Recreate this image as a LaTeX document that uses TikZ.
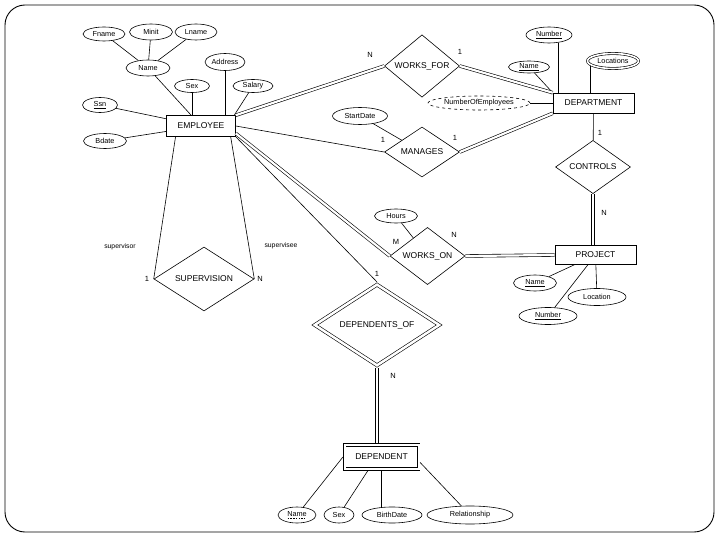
\documentclass[tikz,border=0pt]{standalone}
\usepackage{fontspec}
\setmainfont{Liberation Sans}
\usetikzlibrary{shapes.geometric,calc}
\newcommand\solidul[1]{\underline{#1}}
\newcommand\dashul[1]{\setbox0\hbox{#1}\rlap{\raisebox{-1.6pt}{\hbox to \wd0{\xleaders\hbox{\vrule width 1.5pt height 0.4pt\hskip 1pt}\hfill}}}\box0}
\begin{document}
\begin{tikzpicture}[x=1pt,y=-1pt,line width=0.6pt,
  ent/.style={draw,rectangle,inner sep=0pt,font=\fontsize{8.5}{9}\selectfont},
  rel/.style={draw,diamond,inner sep=0pt,font=\fontsize{8.5}{9}\selectfont},
  attr/.style={draw,ellipse,inner sep=0pt,minimum height=15pt,font=\fontsize{7.3}{8}\selectfont},
  card/.style={inner sep=0pt,font=\fontsize{7.5}{8}\selectfont},
  role/.style={inner sep=0pt,font=\fontsize{6.8}{7}\selectfont},
  total/.style={double,double distance=2.2pt},
  frame/.style={line width=0.9pt,rounded corners=20pt}]
\path[use as bounding box] (0,0) rectangle (720,540);
\draw[frame] (5,5) rectangle (714,532);

% entities
\node[ent,minimum width=69,minimum height=21] (emp) at (201,126) {EMPLOYEE};
\node[ent,minimum width=81,minimum height=20] (dept) at (593.5,103) {DEPARTMENT};
\node[ent,minimum width=81,minimum height=19] (proj) at (595.5,255) {PROJECT};
\node[ent,double,double distance=2pt,outer sep=1.6pt,minimum width=74,minimum height=24] (dep) at (381.5,457) {DEPENDENT};

% relationships
\node[rel,minimum width=75,minimum height=48] (wf) at (422,66) {WORKS\_FOR};
\node[rel,minimum width=75,minimum height=50] (man) at (422,152) {MANAGES};
\node[rel,minimum width=75,minimum height=48] (ctrl) at (593,167) {CONTROLS};
\node[rel,minimum width=75,minimum height=50] (won) at (427.5,256) {WORKS\_ON};
\node[rel,minimum width=100,minimum height=62] (sup) at (204,279) {SUPERVISION};
\node[rel,double,double distance=2.5pt,outer sep=1.9pt,minimum width=126,minimum height=77] (depof) at (377,325) {DEPENDENTS\_OF};

% employee attributes
\node[attr,minimum width=42,minimum height=14] (fname) at (104,34) {Fname};
\node[attr,minimum width=43,minimum height=16] (minit) at (151,32) {Minit};
\node[attr,minimum width=42,minimum height=16] (lname) at (196,32) {Lname};
\node[attr,minimum width=44,minimum height=16] (ename) at (148,68) {Name};
\node[attr,minimum width=40,minimum height=17] (addr) at (225,62) {Address};
\node[attr,minimum width=35,minimum height=13] (esex) at (192,86) {Sex};
\node[attr,minimum width=40,minimum height=13] (salary) at (253,86) {Salary};
\node[attr,minimum width=35,minimum height=15] (ssn) at (100,105) {\solidul{Ssn}};
\node[attr,minimum width=43,minimum height=15] (bdate) at (105,141) {Bdate};

% department attributes
\node[attr,minimum width=46,minimum height=16] (dnum) at (549,35) {\solidul{Number}};
\node[attr,minimum width=41,minimum height=12] (dname) at (529,67) {\solidul{Name}};
\node[attr,double,double distance=1.6pt,outer sep=1.4pt,minimum width=51,minimum height=15] (locs) at (613,61) {Locations};
\node[attr,dashed,minimum width=102,minimum height=14] (numemp) at (479,103) {NumberOfEmployees};

% relationship attributes
\node[attr,minimum width=55,minimum height=17] (sdate) at (360,116) {StartDate};
\node[attr,minimum width=43,minimum height=14] (hours) at (396,216) {Hours};

% project attributes
\node[attr,minimum width=43,minimum height=16] (pname) at (535,283) {\solidul{Name}};
\node[attr,minimum width=58,minimum height=17] (pnum) at (548,316) {\solidul{Number}};
\node[attr,minimum width=58,minimum height=17] (ploc) at (597,297) {Location};

% dependent attributes
\node[attr,minimum width=38,minimum height=16] (dpname) at (297,515) {\dashul{Name}};
\node[attr,minimum width=30,minimum height=16] (dsex) at (339,515) {Sex};
\node[attr,minimum width=60,minimum height=16] (dbirth) at (392,515) {BirthDate};
\node[attr,minimum width=86,minimum height=18] (drel) at (470,515) {Relationship};

% attribute connectors
\draw (fname) -- (ename);
\draw (minit) -- (ename);
\draw (lname) -- (ename);
\draw (ename) -- (emp);
\draw (addr) -- (addr |- emp.north);
\draw (esex) -- (esex |- emp.north);
\draw (salary) -- (emp.18);
\draw (ssn) -- (emp);
\draw (bdate) -- (emp);
\draw (dnum.-40) -- (dnum.-40 |- dept.north);
\draw (dname) -- (dept.north west);
\draw (locs.-168) -- (locs.-168 |- dept.north);
\draw (numemp) -- (dept);
\draw (sdate) -- (man);
\draw (hours) -- (won);
\draw (pname) -- (proj);
\draw (pnum) -- (proj);
\draw (ploc) -- (proj);
\draw (dpname) -- (dep.west);
\draw (dsex) -- (dep.-135);
\draw (dep.south) -- (dep.south |- dbirth.north);
\draw (drel) -- (dep.-8);

% relationship connectors
\draw[total] (emp.north east) -- (wf.west);
\draw[total] (wf.east) -- (dept.north west);
\draw (emp.east) -- (man.west);
\draw[total] (man.east) -- (dept.south west);
\draw (dept) -- (ctrl);
\draw[total] (ctrl.south) -- (ctrl.south |- proj.north);
\draw[total] (emp.-12) -- (won.west);
\draw[total] (won.east) -- (proj.west);
\draw (emp.south east) -- (depof.north);
\draw[total] (depof.south) -- (depof.south |- dep.north);
\draw (emp.-157) -- (sup.west);
\draw (emp.-20) -- (sup.east);

% cardinalities and roles
\node[card] (cwfn) at (370,55) {N};
\node[card] (cwf1) at (460,52) {1};
\node[card] (cman1) at (383,140) {1};
\node[card] (cman2) at (455,138) {1};
\node[card] (cctl1) at (600,133) {1};
\node[card] (cctln) at (604,213) {N};
\node[card] (cwonm) at (396,242) {M};
\node[card] (cwonn) at (454,235) {N};
\node[card] (cdep1) at (377,274) {1};
\node[card] (cdepn) at (393,376) {N};
\node[card] (csup1) at (147,279) {1};
\node[card] (csupn) at (260,279) {N};
\node[role] (rsor) at (120,247) {supervisor};
\node[role] (rsee) at (281,246) {supervisee};
\end{tikzpicture}
\end{document}
